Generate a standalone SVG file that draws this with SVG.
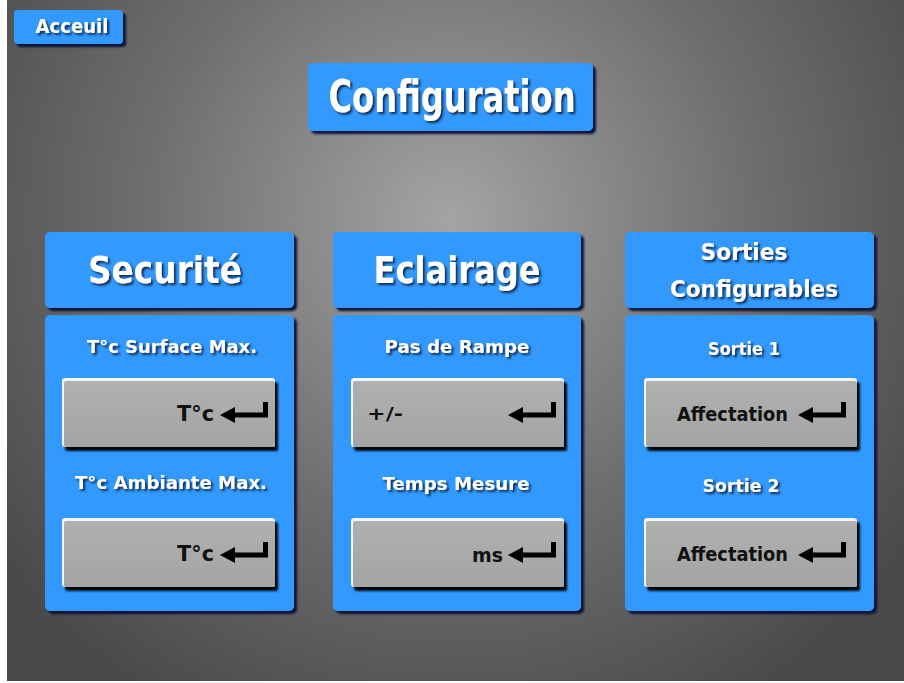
<svg xmlns="http://www.w3.org/2000/svg" xmlns:xlink="http://www.w3.org/1999/xlink" width="904" height="683" viewBox="0 0 904 683">
<defs>
<radialGradient id="bg" cx="450" cy="220" r="560" gradientUnits="userSpaceOnUse">
<stop offset="0" stop-color="#a4a4a4"/>
<stop offset="0.55" stop-color="#6e6e6e"/>
<stop offset="1" stop-color="#4a4a4a"/>
</radialGradient>
<linearGradient id="btn" x1="0" y1="0" x2="0" y2="1">
<stop offset="0" stop-color="#b0b0b0"/>
<stop offset="1" stop-color="#a4a4a4"/>
</linearGradient>
<filter id="pshadow" x="-10%" y="-10%" width="125%" height="125%">
<feDropShadow dx="3" dy="3" stdDeviation="1" flood-color="#001033" flood-opacity="0.95"/>
</filter>
<filter id="bshadow" x="-10%" y="-10%" width="125%" height="130%">
<feDropShadow dx="3" dy="4" stdDeviation="1.2" flood-color="#000" flood-opacity="0.95"/>
</filter>
<filter id="tshadow" x="-10%" y="-20%" width="130%" height="160%">
<feDropShadow dx="2" dy="2" stdDeviation="1.2" flood-color="#0b1e3c" flood-opacity="0.9"/>
</filter>
<path id="enter" d="M0,0 L15,-8 L15,-2.5 L43,-2.5 L43,-13 L48,-13 L48,2.5 L15,2.5 L15,8 Z" fill="#000"/>
</defs>
<style>
.panel{fill:#3399ff;filter:url(#pshadow)}
.btnhi{fill:#f4f4f4}
.btnbody{fill:url(#btn)}
.wt{fill:#ffffff;font-family:"DejaVu Sans","Liberation Sans",sans-serif;font-weight:bold;text-anchor:middle;filter:url(#tshadow)}
.bt{fill:#111111;font-family:"DejaVu Sans","Liberation Sans",sans-serif;font-weight:bold}
</style>
<rect x="0" y="0" width="904" height="683" fill="#ffffff"/>
<rect x="7" y="0" width="897" height="681" fill="url(#bg)"/>

<g id="acceuil">
<rect class="panel" x="14" y="10" width="109" height="34" rx="4"/>
<text class="wt" x="72" y="33" font-size="20" textLength="73" lengthAdjust="spacingAndGlyphs">Acceuil</text>
</g>

<g id="configuration">
<rect class="panel" x="308" y="63" width="285" height="68" rx="5"/>
<text class="wt" x="452" y="112" font-size="44" textLength="247" lengthAdjust="spacingAndGlyphs">Configuration</text>
</g>

<g id="securite">
<rect class="panel" x="45" y="232" width="249" height="76" rx="5"/>
<text class="wt" x="165" y="283" font-size="38" textLength="154" lengthAdjust="spacingAndGlyphs">Securité</text>
<rect class="panel" x="45" y="315" width="249" height="296" rx="5"/>
<text class="wt" x="172" y="353" font-size="17" textLength="170" lengthAdjust="spacingAndGlyphs">T°c Surface Max.</text>
<g filter="url(#bshadow)">
<rect class="btnhi" x="62" y="378" width="213" height="69" rx="3"/>
<rect class="btnbody" x="64" y="381" width="211" height="66" rx="2"/>
</g>
<text class="bt" x="177" y="421" font-size="21" textLength="37" lengthAdjust="spacingAndGlyphs">T°c</text>
<use xlink:href="#enter" x="220" y="415"/>
<text class="wt" x="171" y="489" font-size="17" textLength="192" lengthAdjust="spacingAndGlyphs">T°c Ambiante Max.</text>
<g filter="url(#bshadow)">
<rect class="btnhi" x="62" y="518" width="213" height="69" rx="3"/>
<rect class="btnbody" x="64" y="521" width="211" height="66" rx="2"/>
</g>
<text class="bt" x="177" y="561" font-size="21" textLength="37" lengthAdjust="spacingAndGlyphs">T°c</text>
<use xlink:href="#enter" x="220" y="555"/>
</g>

<g id="eclairage">
<rect class="panel" x="333" y="232" width="248" height="76" rx="5"/>
<text class="wt" x="457" y="283" font-size="38" textLength="167" lengthAdjust="spacingAndGlyphs">Eclairage</text>
<rect class="panel" x="333" y="315" width="248" height="296" rx="5"/>
<text class="wt" x="457" y="353" font-size="17" textLength="145" lengthAdjust="spacingAndGlyphs">Pas de Rampe</text>
<g filter="url(#bshadow)">
<rect class="btnhi" x="351" y="378" width="213" height="69" rx="3"/>
<rect class="btnbody" x="353" y="381" width="211" height="66" rx="2"/>
</g>
<text class="bt" x="367" y="420" font-size="18" textLength="36" lengthAdjust="spacingAndGlyphs">+/-</text>
<use xlink:href="#enter" x="508" y="415"/>
<text class="wt" x="456" y="490" font-size="17" textLength="147" lengthAdjust="spacingAndGlyphs">Temps Mesure</text>
<g filter="url(#bshadow)">
<rect class="btnhi" x="351" y="518" width="213" height="69" rx="3"/>
<rect class="btnbody" x="353" y="521" width="211" height="66" rx="2"/>
</g>
<text class="bt" x="472" y="562" font-size="20" textLength="31" lengthAdjust="spacingAndGlyphs">ms</text>
<use xlink:href="#enter" x="508" y="555"/>
</g>

<g id="sorties">
<rect class="panel" x="625" y="232" width="249" height="76" rx="5"/>
<text class="wt" x="744" y="260" font-size="23" textLength="87" lengthAdjust="spacingAndGlyphs">Sorties</text>
<text class="wt" x="754" y="297" font-size="23" textLength="168" lengthAdjust="spacingAndGlyphs">Configurables</text>
<rect class="panel" x="625" y="315" width="249" height="296" rx="5"/>
<text class="wt" x="744" y="355" font-size="18" textLength="72" lengthAdjust="spacingAndGlyphs">Sortie 1</text>
<g filter="url(#bshadow)">
<rect class="btnhi" x="644" y="378" width="213" height="69" rx="3"/>
<rect class="btnbody" x="646" y="381" width="211" height="66" rx="2"/>
</g>
<text class="bt" x="677" y="421" font-size="20" textLength="111" lengthAdjust="spacingAndGlyphs">Affectation</text>
<use xlink:href="#enter" x="798" y="415"/>
<text class="wt" x="741" y="492" font-size="18" textLength="77" lengthAdjust="spacingAndGlyphs">Sortie 2</text>
<g filter="url(#bshadow)">
<rect class="btnhi" x="644" y="518" width="213" height="69" rx="3"/>
<rect class="btnbody" x="646" y="521" width="211" height="66" rx="2"/>
</g>
<text class="bt" x="677" y="561" font-size="20" textLength="111" lengthAdjust="spacingAndGlyphs">Affectation</text>
<use xlink:href="#enter" x="798" y="555"/>
</g>

<g id="connectors"/>
</svg>
